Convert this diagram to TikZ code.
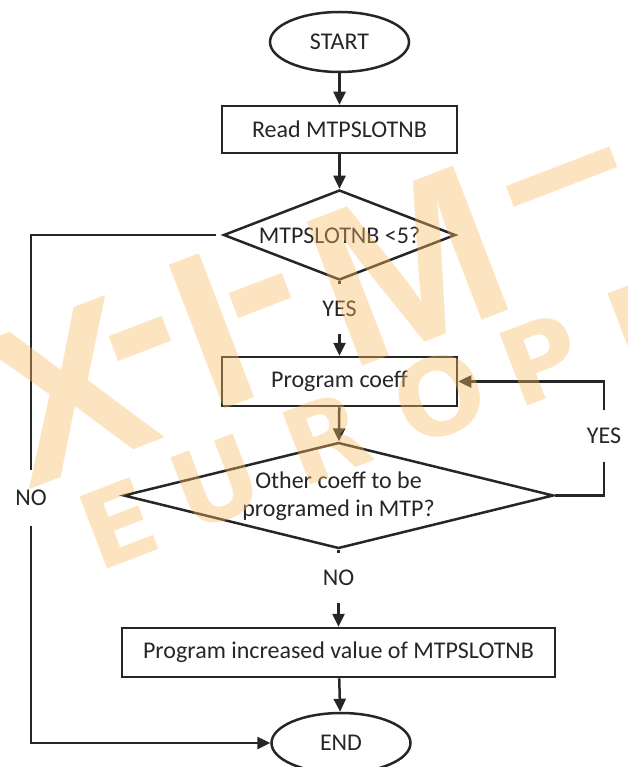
\documentclass[tikz,border=0pt]{standalone}
\usepackage{fontspec}
\setmainfont{Carlito}
\newfontfamily\wmfont{DejaVu Sans}
\newfontfamily\wmbigfont{Liberation Sans}
\usetikzlibrary{shapes.geometric,arrows.meta}
\definecolor{ink}{RGB}{38,38,38}
\definecolor{wmorange}{RGB}{250,188,100}
\begin{document}
\begin{tikzpicture}[x=1pt,y=-1pt,
  every node/.style={font=\fontsize{24}{28}\selectfont, text=ink},
  conn/.style={draw=ink, line width=2.5pt},
  arr/.style={conn, -{Triangle[length=13pt,width=12pt]}},
  shp/.style={draw=ink, line width=2.5pt, inner sep=0pt},
  boxnode/.style={shp, rectangle},
  termnode/.style={shp, ellipse, minimum width=139pt, minimum height=60pt},
  decnode/.style={shp, diamond},
  lbl/.style={inner sep=0pt, minimum width=10pt},
  wmbig/.style={text=wmorange, text opacity=0.4, inner sep=0pt, rotate=21,
    font=\wmbigfont\bfseries\fontsize{224}{224}\selectfont},
  wmsmall/.style={text=wmorange, text opacity=0.4, inner sep=0pt, rotate=21,
    font=\wmfont\bfseries\fontsize{106}{106}\selectfont}]
\useasboundingbox (0,0) rectangle (627,767);

% flow nodes
\node[termnode] (start) at (339.5,42) {START};
\node[boxnode, minimum width=235pt, minimum height=47pt] (read) at (339.5,129.5) {Read MTPSLOTNB};
\node[decnode, minimum width=232pt, minimum height=90pt] (d1) at (339.5,235) {};
\node at (d1) (d1t) {MTPSLOTNB <5?};
\node[lbl, minimum height=50pt] (yes1) at (339.5,309) {YES};
\node[boxnode, minimum width=235pt, minimum height=49pt] (prog) at (339.5,381.5) {Program coeff};
\node[decnode, minimum width=430pt, minimum height=106pt] (d2) at (338.5,495.5) {};
\node[align=center, inner sep=0pt] (d2t) at (338.5,496) {Other coeff to be\\programed in MTP?};
\node[lbl, minimum height=52pt] (yes2) at (604,436) {YES};
\node[lbl, minimum height=55pt] (no1) at (31,498) {NO};
\node[lbl, minimum height=50pt] (no2) at (338.5,578) {NO};
\node[boxnode, minimum width=433pt, minimum height=49pt] (inc) at (338.5,652.5) {Program increased value of MTPSLOTNB};
\node[termnode] (end) at (341,743) {END};

% connectors
\draw[arr] (start) -- (read);
\draw[arr] (read) -- (d1);
\draw[conn] (d1) -- (yes1);
\draw[arr] (yes1) -- (prog);
\draw[arr] (prog) -- (d2);
\draw[conn] (d2) -- (no2);
\draw[arr] (no2) -- (inc);
\draw[arr] (inc) -- (end);
\draw[conn, shorten <=6pt] (d1.west) -| (no1.north);
\draw[arr] (no1.south) |- (end.west);
\draw[conn] (d2.east) -| (yes2.south);
\draw[arr] (yes2.north) |- (prog.east);

% watermark
\node[wmbig] (wmX) at (70,392) {X};
\node[wmbig] (wmH1) at (149,360) {-};
\node[wmbig] (wmI) at (212,331) {I};
\node[wmbig] (wmH2) at (269,317) {-};
\node[wmbig] (wmM) at (408,266) {M};
\node[wmbig] (wmH3) at (571,200) {–};
\node[wmsmall] (wmE) at (118,523) {E};
\node[wmsmall] (wmU) at (216,483) {U};
\node[wmsmall] (wmR) at (326,438) {R};
\node[wmsmall] (wmO) at (440,396) {O};
\node[wmsmall] (wmP) at (541,360) {P};
\node[wmsmall] (wmE2) at (646,320) {E};
\end{tikzpicture}
\end{document}
